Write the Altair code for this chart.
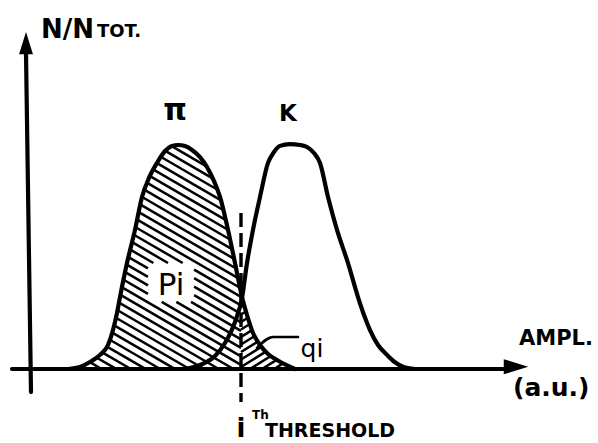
import altair as alt
import numpy as np
import pandas as pd

# Pion (pi) pulse-amplitude distribution: amplitude (a.u.) and N/N_tot (peak = 1)
pi_amp = [7.8, 10.2, 12.2, 14.2, 15.8, 16.8, 17.6, 18.2, 19.6, 21.2, 22.6, 24.0,
          25.6, 27.2, 28.6, 29.8, 31.2, 32.6, 34.2, 35.6, 37.0, 38.2, 39.8, 41.2,
          42.6, 43.6, 44.8, 46.2, 47.8, 49.6, 51.4, 53.2]
pi_frac = [0, 0.009, 0.031, 0.063, 0.107, 0.174, 0.25, 0.321, 0.473, 0.621, 0.768, 0.853,
           0.920, 0.973, 0.996, 1.0, 0.995, 0.978, 0.946, 0.902, 0.839, 0.768, 0.621, 0.473,
           0.321, 0.241, 0.161, 0.107, 0.067, 0.040, 0.018, 0]

# Kaon (K) pulse-amplitude distribution
k_amp = [31.2, 34.2, 37.2, 39.2, 41.2, 42.6, 43.6, 44.8, 46.2, 47.8, 49.0, 50.2, 52.2,
         54.2, 55.6, 57.0, 58.2, 59.8, 61.6, 63.8, 65.8, 67.0, 68.2, 69.8, 71.6, 73.2,
         74.8, 77.2]
k_frac = [0, 0.018, 0.058, 0.116, 0.210, 0.317, 0.473, 0.621, 0.768, 0.920, 0.969, 0.996, 1.004,
          1.0, 0.991, 0.964, 0.920, 0.768, 0.621, 0.473, 0.321, 0.241, 0.174, 0.107, 0.063, 0.030,
          0.010, 0]

# i-th amplitude threshold
threshold = 42.4

W, H = 598, 443
X_DOM = [-5.8, 113.8]
Y_DOM = [-0.330357, 1.647321]
UX = W / (X_DOM[1] - X_DOM[0])   # pixels per amplitude unit
UY = H / (Y_DOM[1] - Y_DOM[0])   # pixels per N/N_tot unit

xs = alt.Scale(domain=X_DOM, nice=False, zero=False)
ys = alt.Scale(domain=Y_DOM, nice=False, zero=False)
INK = "#000000"
FONT = "DejaVu Sans"


def hatch(x_lo, x_hi, slope_px, gap_px, hole=None):
    """Hatch lines under the pion curve between x_lo and x_hi."""
    grid = np.arange(x_lo, x_hi + 1e-9, 0.02)
    top = np.interp(grid, pi_amp, pi_frac)
    s = -slope_px * UX / UY
    step = gap_px / UY
    segs = []
    for b in np.arange(-2.0, 2.5, step):
        yl = b + s * (grid - x_lo)
        inside = (yl >= 0) & (yl <= top)
        if hole is not None:
            hx0, hx1, hy0, hy1 = hole
            inside &= ~((grid >= hx0) & (grid <= hx1) & (yl >= hy0) & (yl <= hy1))
        if not inside.any():
            continue
        d = np.diff(np.concatenate([[0], inside.astype(int), [0]]))
        starts = np.where(d == 1)[0]
        ends = np.where(d == -1)[0] - 1
        for a, e in zip(starts, ends):
            if e > a:
                segs.append({"x0": float(grid[a]), "y0": float(yl[a]),
                             "x1": float(grid[e]), "y1": float(yl[e])})
    return pd.DataFrame(segs)


def seg_layer(df, width, cap="butt"):
    return alt.Chart(df).mark_rule(color=INK, strokeWidth=width, strokeCap=cap).encode(
        x=alt.X("x0:Q", scale=xs, axis=None), y=alt.Y("y0:Q", scale=ys, axis=None),
        x2="x1:Q", y2="y1:Q")


def curve(df, width=4.2):
    return alt.Chart(df).mark_line(color=INK, strokeWidth=width, interpolate="monotone",
                                   strokeCap="round", strokeJoin="round").encode(
        x=alt.X("amp:Q", scale=xs, axis=None), y=alt.Y("frac:Q", scale=ys, axis=None),
        order="o:Q")


def arrow(x, y, shape, size):
    return alt.Chart(pd.DataFrame({"ax": [x], "ay": [y]})).mark_point(
        shape=shape, filled=True, size=size, color=INK, opacity=1, strokeWidth=0).encode(
        x=alt.X("ax:Q", scale=xs, axis=None), y=alt.Y("ay:Q", scale=ys, axis=None))


def label(text, x, y, size, weight="bold", align="left"):
    return alt.Chart(pd.DataFrame({"lx": [x], "ly": [y], "t": [text]})).mark_text(
        font=FONT, fontSize=size, fontWeight=weight, align=align,
        baseline="alphabetic", color=INK).encode(
        x=alt.X("lx:Q", scale=xs, axis=None), y=alt.Y("ly:Q", scale=ys, axis=None),
        text="t:N")


p_hatch = hatch(pi_amp[0], threshold, 0.58, 8.5, hole=(23.8, 33.0, 0.30, 0.473))
q_hatch = hatch(threshold, pi_amp[-1], -0.62, 7.5)

pi_df = pd.DataFrame({"amp": pi_amp, "frac": pi_frac, "o": range(len(pi_amp))})
k_df = pd.DataFrame({"amp": k_amp, "frac": k_frac, "o": range(len(k_amp))})

# Axes drawn as arrows
axes_df = pd.DataFrame({"x0": [-3.4, 0.4], "y0": [0.0, -0.103],
                        "x1": [95.5, -0.6], "y1": [0.0, 1.41]})

# Dashed threshold line
thr_df = pd.DataFrame({"x0": [threshold], "y0": [0.696], "x1": [threshold], "y1": [-0.147]})
thr = alt.Chart(thr_df).mark_rule(color=INK, strokeWidth=3.4, strokeDash=[14, 6]).encode(
    x=alt.X("x0:Q", scale=xs, axis=None), y=alt.Y("y0:Q", scale=ys, axis=None),
    x2="x1:Q", y2="y1:Q")

# Leader line from the q_i label
lead_df = pd.DataFrame({"amp": [53.8, 48.8, 45.6], "frac": [0.143, 0.143, 0.094], "o": [0, 1, 2]})

layers = [
    seg_layer(p_hatch, 2.5),
    seg_layer(q_hatch, 2.5),
    curve(pi_df),
    curve(k_df),
    seg_layer(axes_df, 4.2, cap="round"),
    arrow(-0.6, 1.455, "M0,-1L0.62,1L-0.62,1Z", 500),
    arrow(97.4, 0.01, "M1,0L-1,-0.62L-1,0.62Z", 600),
    thr,
    curve(lead_df, width=2.6),
    label("N/N", 2.4, 1.478, 26),
    label("TOT.", 13.6, 1.482, 18),
    label("π", 29.2, 1.112, 30, align="center"),
    label("K", 51.8, 1.107, 23, align="center"),
    label("Pi", 28.4, 0.330, 31, weight="normal", align="center"),
    label("qi", 56.6, 0.054, 25, weight="normal", align="center"),
    label("AMPL.", 98.0, 0.107, 21),
    label("(a.u.)", 96.8, -0.121, 25),
    label("i", 42.4, -0.303, 26, align="center"),
    label("Th", 44.6, -0.225, 12),
    label("THRESHOLD", 47.2, -0.303, 19),
]

chart = alt.layer(*layers).properties(
    width=W, height=H, padding=0, autosize="none", background="white"
).configure_view(strokeWidth=0)

chart.save("out.html", embed_options={"renderer": "svg", "actions": False})
